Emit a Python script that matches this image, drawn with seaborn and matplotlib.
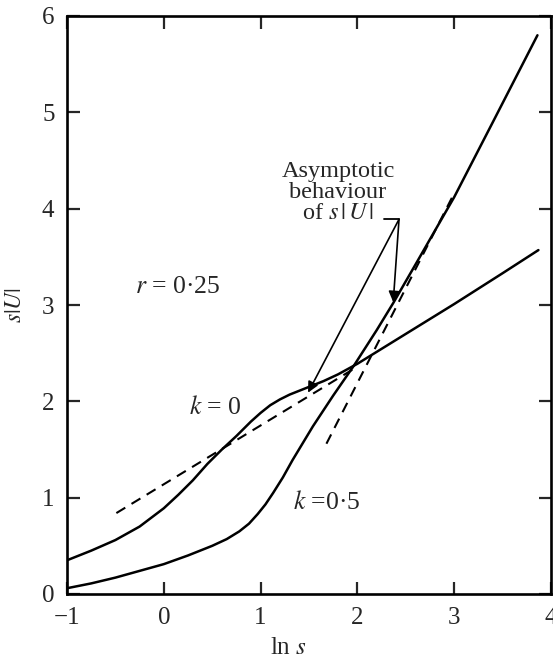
"""
Recreation of the s|U| vs ln s chart (r = 0.25, k = 0 and k = 0.5).
"""

import matplotlib
matplotlib.use("Agg")

import matplotlib.pyplot as plt
import seaborn as sns
import pandas as pd

# ──────────────────────────────────────────────
# DATA
# ──────────────────────────────────────────────

# k = 0 curve
k0_x = [-1.0, -0.75, -0.5, -0.25, 0.0, 0.15, 0.3, 0.45, 0.6, 0.75, 0.9,
        1.0, 1.1, 1.2, 1.3, 1.4, 1.5, 1.65, 1.8, 2.0, 2.5, 3.0, 3.5, 3.87]
k0_y = [0.35, 0.45, 0.56, 0.70, 0.89, 1.03, 1.18, 1.35, 1.50, 1.64, 1.79,
        1.88, 1.96, 2.02, 2.07, 2.11, 2.15, 2.21, 2.28, 2.39, 2.70, 3.01,
        3.33, 3.57]

# k = 0.5 curve
k05_x = [-1.0, -0.75, -0.5, -0.25, 0.0, 0.25, 0.5, 0.65, 0.78, 0.88, 0.97,
         1.05, 1.13, 1.23, 1.33, 1.54, 1.75, 1.97, 2.2, 2.37, 2.6, 3.0,
         3.4, 3.86]
k05_y = [0.06, 0.11, 0.17, 0.24, 0.31, 0.40, 0.50, 0.57, 0.65, 0.73, 0.83,
         0.93, 1.05, 1.21, 1.39, 1.74, 2.06, 2.38, 2.74, 3.02, 3.42, 4.12,
         4.90, 5.80]

# asymptotes (dashed)
asym_k0_x = [-0.49, 2.0]
asym_k0_y = [0.84, 2.36]
asym_k05_x = [1.68, 3.0]
asym_k05_y = [1.56, 4.16]

x_ticks = [-1, 0, 1, 2, 3, 4]
y_ticks = [0, 1, 2, 3, 4, 5, 6]

# ──────────────────────────────────────────────
# STYLE
# ──────────────────────────────────────────────
sns.set_style("ticks")
plt.rcParams["font.family"] = ["Liberation Serif", "DejaVu Serif"]
plt.rcParams["mathtext.fontset"] = "stix"

fig = plt.figure(figsize=(5.53, 6.6), dpi=100)
ax = fig.add_axes([67 / 553, 1 - 594 / 660, 484 / 553, 578 / 660])

curves = pd.DataFrame({"x": k0_x, "y": k0_y})
sns.lineplot(data=curves, x="x", y="y", color="black", lw=1.8, ax=ax)
curves = pd.DataFrame({"x": k05_x, "y": k05_y})
sns.lineplot(data=curves, x="x", y="y", color="black", lw=1.8, ax=ax)

for xs, ys in [(asym_k0_x, asym_k0_y), (asym_k05_x, asym_k05_y)]:
    sns.lineplot(x=xs, y=ys, color="black", lw=1.5,
                 linestyle=(0, (5, 3.5)), ax=ax)

# ── axes / ticks ──
ax.set_xlim(-1, 4)
ax.set_ylim(0, 6)
ax.set_xticks(x_ticks)
ax.set_yticks(y_ticks)
ax.tick_params(direction="in", length=9, width=1.6, top=True, right=True,
               labelsize=18, pad=9)
for sp in ax.spines.values():
    sp.set_linewidth(1.9)
    sp.set_color("black")

ax.set_xlabel(r"ln $s$", fontsize=18)
ax.xaxis.set_label_coords((288 - 67) / 484, -0.075)
ax.set_ylabel(r"$s|U|$", fontsize=17)
ax.yaxis.set_label_coords(-0.085, 0.50)

# ── text labels ──
ax.text(0.14, 3.19, r"$r$ = 0·25", fontsize=18.5, ha="center", va="center")
ax.text(0.53, 1.94, r"$k$ = 0", fontsize=18.5, ha="center", va="center")
ax.text(1.68, 0.955, r"$k$ =0·5", fontsize=18.5, ha="center", va="center")
ax.text(1.80, 4.17, "Asymptotic\nbehaviour\nof $s\\,|\\,U\\,|$", fontsize=17.5,
        ha="center", va="center", multialignment="center", linespacing=1.0)

# bracket + arrows pointing at the asymptotes
ax.plot([2.27, 2.43], [3.89, 3.89], color="black", lw=1.3)
for tip in [(1.49, 2.09), (2.37, 3.03)]:
    ax.annotate("", xy=tip, xytext=(2.43, 3.89),
                arrowprops=dict(arrowstyle="-|>", color="black", lw=1.2,
                                mutation_scale=16, shrinkA=0, shrinkB=0))

fig.savefig("out.png", dpi=100)
plt.close(fig)
